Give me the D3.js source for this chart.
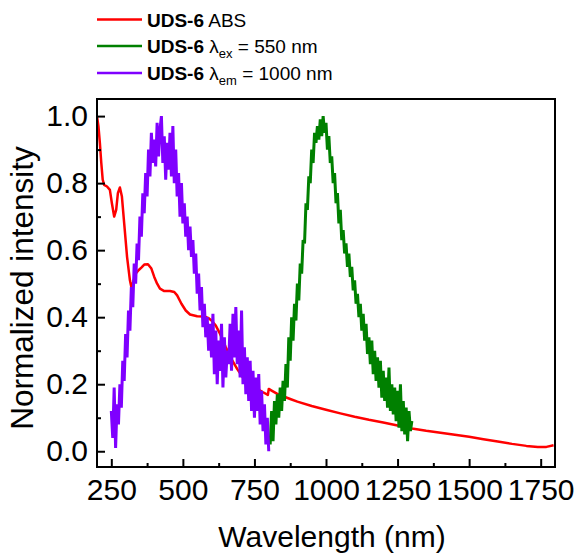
<!DOCTYPE html>
<html><head><meta charset="utf-8">
<script src="https://cdn.jsdelivr.net/npm/d3@7"></script>
<style>
body{margin:0;background:#fff;}
text{font-family:"Liberation Sans",Arial,sans-serif;fill:#000;}
</style></head>
<body>
<svg id="chart" width="578" height="555"></svg>
<script>
// ---------- DATA ----------
const xTickValues = [250, 500, 750, 1000, 1250, 1500, 1750];
const xMinorTicks = [375, 625, 875, 1125, 1375, 1625];
const yTickValues = [0.0, 0.2, 0.4, 0.6, 0.8, 1.0];
const yMinorTicks = [0.1, 0.3, 0.5, 0.7, 0.9];

const seriesNames = ["UDS-6 ABS", "UDS-6 λex = 550 nm", "UDS-6 λem = 1000 nm"];

// Absorption (red): [wavelength, value]
const absWavelength = [200,205,210,215,220,225,235,245,252,260,267,273,280,287,295,305,315,320,325,335,345,355,365,378,390,400,410,420,435,455,470,480,495,510,525,550,575,590,600,615,630,650,670,690,710,735,760,780,797,800,810,830,850,875,900,950,1000,1050,1100,1150,1200,1250,1300,1350,1400,1450,1500,1550,1600,1650,1700,1740,1770,1795];
const absValue = [1.00,0.97,0.92,0.86,0.81,0.795,0.79,0.78,0.74,0.70,0.72,0.77,0.787,0.76,0.68,0.58,0.51,0.49,0.50,0.53,0.54,0.548,0.557,0.558,0.545,0.52,0.50,0.485,0.478,0.478,0.475,0.465,0.44,0.42,0.408,0.403,0.402,0.397,0.39,0.375,0.35,0.31,0.275,0.245,0.22,0.20,0.186,0.176,0.168,0.186,0.181,0.171,0.164,0.156,0.148,0.135,0.124,0.113,0.103,0.094,0.086,0.077,0.068,0.061,0.055,0.049,0.043,0.036,0.029,0.022,0.016,0.013,0.013,0.018];

// Excitation spectrum monitored at 1000 nm (purple), 250–800 nm every 5 nm
const emStart = 250, emStep = 5;
const emValue = [0.12,0.04,0.19,0.01,0.14,0.08,0.20,0.13,0.27,0.21,0.35,0.28,0.42,0.36,0.49,0.43,0.56,0.50,0.62,0.57,0.70,0.64,0.77,0.71,0.83,0.76,0.90,0.82,0.95,0.86,0.93,0.85,0.98,0.88,0.96,1.00,0.86,0.94,0.81,0.92,0.84,0.95,0.82,0.97,0.80,0.90,0.76,0.83,0.70,0.80,0.68,0.74,0.64,0.70,0.60,0.67,0.58,0.63,0.53,0.59,0.47,0.53,0.42,0.49,0.37,0.44,0.34,0.40,0.30,0.38,0.28,0.41,0.23,0.36,0.20,0.33,0.24,0.38,0.19,0.34,0.22,0.30,0.26,0.38,0.24,0.41,0.28,0.43,0.26,0.36,0.22,0.42,0.20,0.31,0.17,0.28,0.15,0.27,0.12,0.24,0.10,0.22,0.12,0.23,0.08,0.18,0.06,0.14,0.02,0.10,0.00];

// Emission spectrum excited at 550 nm (green), 805–1300 nm every 5 nm
const exStart = 805, exStep = 5;
const exValue = [0.02,0.12,0.03,0.15,0.08,0.17,0.10,0.19,0.12,0.21,0.15,0.26,0.19,0.34,0.27,0.40,0.33,0.44,0.39,0.50,0.45,0.56,0.53,0.63,0.62,0.74,0.72,0.82,0.80,0.90,0.86,0.95,0.92,0.97,0.93,0.99,0.94,1.00,0.95,0.98,0.90,0.94,0.86,0.88,0.80,0.83,0.74,0.77,0.68,0.72,0.63,0.66,0.59,0.62,0.55,0.59,0.52,0.55,0.48,0.51,0.44,0.47,0.40,0.44,0.36,0.41,0.33,0.38,0.29,0.34,0.26,0.33,0.23,0.30,0.21,0.28,0.19,0.27,0.16,0.24,0.15,0.22,0.13,0.25,0.12,0.20,0.11,0.19,0.09,0.18,0.07,0.20,0.06,0.15,0.05,0.13,0.03,0.12,0.06,0.09];

// ---------- BUILD ----------
const absData = absWavelength.map((w, i) => [w, absValue[i]]);
const emData = emValue.map((v, i) => [emStart + i * emStep, v]);
const exData = exValue.map((v, i) => [exStart + i * exStep, v]);

const margin = {left: 97, top: 99, right: 23, bottom: 88};
const W = 578, H = 555;
const pw = W - margin.left - margin.right, ph = H - margin.top - margin.bottom;
const svg = d3.select("#chart");
const g = svg.append("g").attr("transform", `translate(${margin.left},${margin.top})`);

const x = d3.scaleLinear().domain([200, 1800]).range([0, pw]);
const y = d3.scaleLinear().domain([-0.047, 1.051]).range([ph, 0]);

const clip = svg.append("defs").append("clipPath").attr("id", "clip");
clip.append("rect").attr("width", pw).attr("height", ph);

const line = d3.line().x(d => x(d[0])).y(d => y(d[1]));
const plot = g.append("g").attr("clip-path", "url(#clip)");
const colors = ["#ff0000", "#008000", "#7f00ff"];
plot.append("path").datum(absData).attr("d", line).attr("fill", "none").attr("stroke", colors[0]).attr("stroke-width", 2.5).attr("stroke-linejoin", "round");
plot.append("path").datum(exData).attr("d", line).attr("fill", "none").attr("stroke", colors[1]).attr("stroke-width", 3).attr("stroke-linejoin", "miter");
plot.append("path").datum(emData).attr("d", line).attr("fill", "none").attr("stroke", colors[2]).attr("stroke-width", 3).attr("stroke-linejoin", "miter");

// axes
const xAxis = d3.axisBottom(x).tickValues(xTickValues).tickSize(-8).tickPadding(12).tickFormat(d3.format("d"));
const xMinor = d3.axisBottom(x).tickValues(xMinorTicks).tickSize(-4).tickFormat("");
const yAxis = d3.axisLeft(y).tickValues(yTickValues).tickSize(-8).tickPadding(9).tickFormat(d3.format(".1f"));
const yMinor = d3.axisLeft(y).tickValues(yMinorTicks).tickSize(-4).tickFormat("");

function styleAxis(sel) {
  sel.select(".domain").remove();
  sel.selectAll("line").attr("stroke", "#000").attr("stroke-width", 2);
  sel.selectAll("text").style("font-size", "30px").attr("fill", "#000");
}
g.append("g").attr("transform", `translate(0,${ph})`).call(xAxis).call(styleAxis);
g.append("g").attr("transform", `translate(0,${ph})`).call(xMinor).call(styleAxis);
g.append("g").call(yAxis).call(styleAxis);
g.append("g").call(yMinor).call(styleAxis);

// frame
g.append("rect").attr("width", pw).attr("height", ph).attr("fill", "none").attr("stroke", "#000").attr("stroke-width", 2);

// axis titles
svg.append("text").attr("x", 332).attr("y", 547).attr("text-anchor", "middle").style("font-size", "30px").text("Wavelength (nm)");
svg.append("text").attr("transform", "translate(33,288) rotate(-90)").attr("text-anchor", "middle").style("font-size", "31.5px").text("Normalized intensity");

// legend
const legRows = [
  {c: colors[0], y: 19.5, parts: [["UDS-6", "b"], [" ABS", "n"]]},
  {c: colors[1], y: 46, parts: [["UDS-6", "b"], [" λ", "n"], ["ex", "s"], [" = 550 nm", "n"]]},
  {c: colors[2], y: 73, parts: [["UDS-6", "b"], [" λ", "n"], ["em", "s"], [" = 1000 nm", "n"]]}
];
const leg = svg.append("g");
legRows.forEach(r => {
  leg.append("line").attr("x1", 97).attr("x2", 142).attr("y1", r.y).attr("y2", r.y).attr("stroke", r.c).attr("stroke-width", 2.4);
  const t = leg.append("text").attr("x", 147).attr("y", r.y + 7).style("font-size", "19px");
  let shifted = false;
  r.parts.forEach(p => {
    const ts = t.append("tspan").text(p[0]);
    if (p[1] === "b") ts.style("font-weight", "bold");
    if (p[1] === "s") { ts.style("font-size", "13px").attr("dy", 5); shifted = true; }
    else if (shifted) { ts.attr("dy", -5); shifted = false; }
  });
});
</script>
</body></html>
